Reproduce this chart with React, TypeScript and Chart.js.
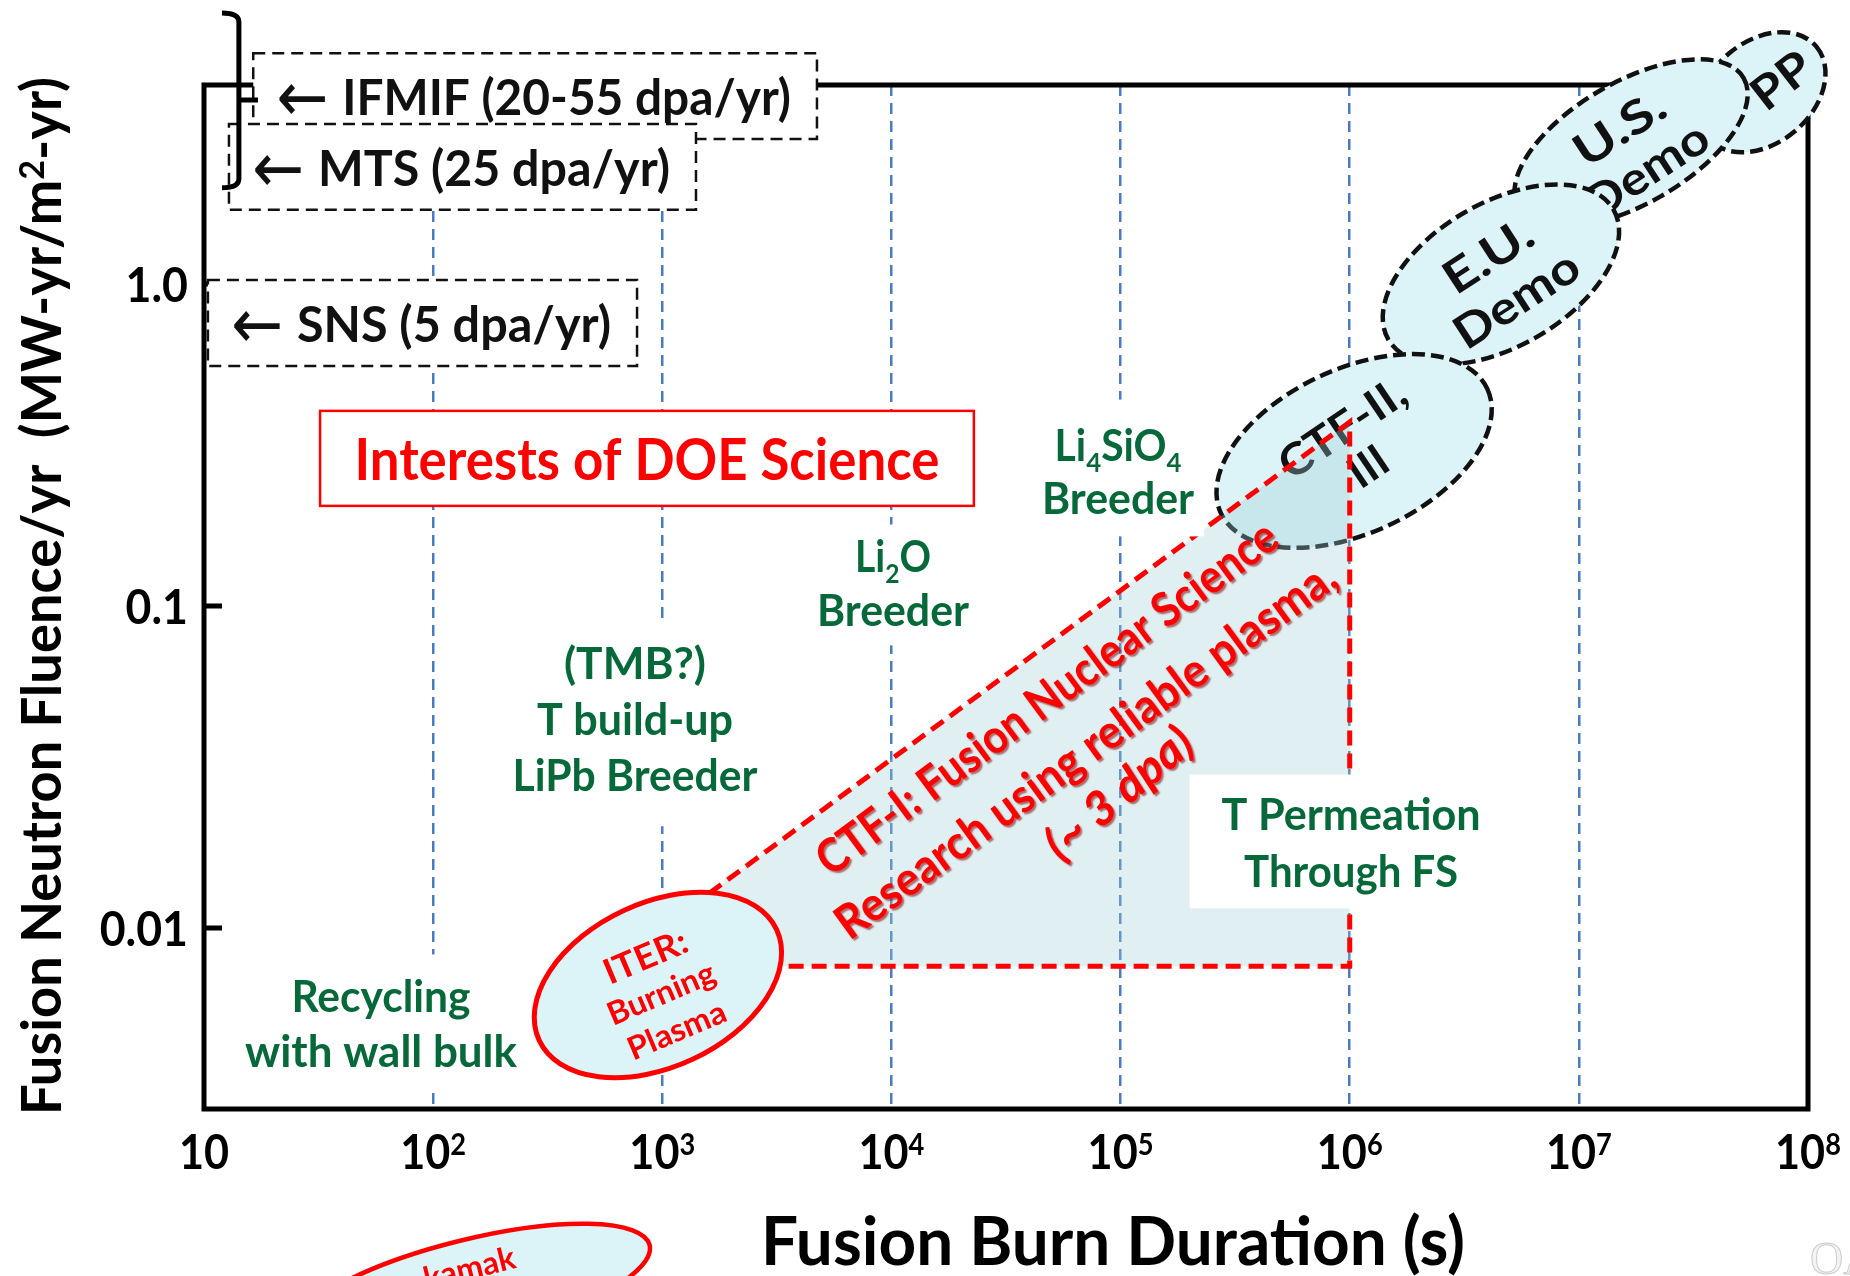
import React, { useEffect, useRef } from 'react';
import { Chart, registerables } from 'chart.js';

Chart.register(...registerables);

// ---------------- chart values ----------------
const DURATION_TICKS = [1e1, 1e2, 1e3, 1e4, 1e5, 1e6, 1e7, 1e8];
const DURATION_TICK_LABELS = ['10', '10^2', '10^3', '10^4', '10^5', '10^6', '10^7', '10^8'];
const FLUENCE_TICKS = [1.0, 0.1, 0.01];
const FLUENCE_TICK_LABELS = ['1.0', '0.1', '0.01'];
const DURATION_LIMITS = [10, 1e8];
const FLUENCE_LIMITS = [0.00274, 4.15];

const X_TITLE = 'Fusion Burn Duration (s)';
const Y_TITLE = 'Fusion Neutron Fluence/yr  (MW-yr/m^2-yr)';

// CTF-I region outline: diagonal, right edge, bottom edge
const CTF1_DURATION = [1.6e3, 1.0e6, 1.0e6, 1.6e3];
const CTF1_FLUENCE = [0.0128, 0.373, 0.0076, 0.0076];
const CTF1_TEXT = ['CTF-I: Fusion Nuclear Science', 'Research using reliable plasma,', '(~ 3 dpa)'];
const CTF1_TEXT_DURATION = [4.73e4, 7.0e4, 9.75e4];
const CTF1_TEXT_FLUENCE = [0.0521, 0.036, 0.0264];

// device regions (ellipses)
const DEVICE_LABELS = [['PP'], ['U.S.', 'Demo'], ['E.U.', 'Demo'], ['CTF-II,', 'III']];
const DEVICE_DURATION = [6.3e7, 1.69e7, 4.57e6, 1.045e6];
const DEVICE_FLUENCE = [3.94, 2.74, 1.07, 0.303];
const DEVICE_TEXT_DURATION = [7.62e7, 1.72e7, 4.62e6, 1.054e6];
const DEVICE_TEXT_FLUENCE = [4.3, 2.63, 1.05, 0.312];

const ITER_LABEL = ['ITER:', 'Burning', 'Plasma'];
const ITER_DURATION = 957;
const ITER_FLUENCE = 0.00665;
const ITER_TEXT_DURATION = 986;
const ITER_TEXT_FLUENCE = 0.00628;

const TOKAMAK_LABEL = 'Tokamak';
const TOKAMAK_DURATION = 145;
const TOKAMAK_FLUENCE = 0.000752;
const TOKAMAK_TEXT_DURATION = 122;
const TOKAMAK_TEXT_FLUENCE = 0.000855;

// green notes
const NOTE_TEXTS = [
  ['Recycling', 'with wall bulk'],
  ['(TMB?)', 'T build-up', 'LiPb Breeder'],
  ['Li_2O', 'Breeder'],
  ['Li_4SiO_4', 'Breeder'],
  ['T Permeation', 'Through FS'],
];
const NOTE_DURATION = [59.2, 760, 1.016e4, 9.75e4, 1.014e6];
const NOTE_FLUENCE = [0.00611, 0.0661, 0.142, 0.314, 0.02244];

// facility boxes
const FACILITY_LABELS = ['IFMIF (20-55 dpa/yr)', 'MTS (25 dpa/yr)', 'SNS (5 dpa/yr)'];
const FACILITY_DURATION_SPAN = [[16.4, 4732], [12.85, 1403], [10.4, 776]];
const FACILITY_FLUENCE_SPAN = [[5.21, 2.82], [3.14, 1.7], [1.029, 0.556]];
const BRACKET_DURATION = [11.98, 14.2, 17.2];
const BRACKET_FLUENCE = [6.94, 3.73, 1.99];

const DOE_LABEL = 'Interests of DOE Science';
const DOE_DURATION_SPAN = [32.1, 2.29e4];
const DOE_FLUENCE_SPAN = [0.4036, 0.2046];

// ---------------- styles / layout ----------------
const FONT = 'Lato, "Open Sans", "DejaVu Sans", sans-serif';
const ARROW_FONT = '"DejaVu Sans", sans-serif';
const CAP = 0.72;
const GREEN = '#07693a';
const RED = '#ff0000';
const INK = '#111111';
const FILL_BLUE = '#dcf3f8';
const GRID_BLUE = '#4a7bc0';

const DEVICE_STYLE = [
  { a: 71, b: 51, angle: -40, textAngle: -38, spacing: 0, size: 46, widths: [64] },
  { a: 130, b: 61, angle: -30, textAngle: -33, spacing: 50, size: 46, widths: [100, 138] },
  { a: 130, b: 72, angle: -30, textAngle: -33, spacing: 52, size: 46, widths: [98, 140] },
  { a: 147, b: 82, angle: -25, textAngle: -34, spacing: 46, size: 44, widths: [144, null] },
];
const NOTE_LAYOUT = [
  { widths: [179, 272], spacing: 55, pad: [10, 28, 26] },
  { widths: [142, 196, 245], spacing: 56, pad: [10, 28, 36] },
  { widths: [76, 152], spacing: 54, pad: [10, 18, 20] },
  { widths: [127, 152], spacing: 53, pad: [10, 32, 23] },
  { widths: [259, 214], spacing: 57, pad: [32, 26, 22] },
];
const CTF1_TEXT_WIDTHS = [561, 607, 178];
const CTF1_TEXT_ANGLES = [-36.5, -36, -40];

// ---------------- text helpers ----------------
type Seg = { t: string; mode: number };
function parseRich(s: string): Seg[] {
  const out: Seg[] = [];
  let buf = '';
  for (let i = 0; i < s.length; i++) {
    const c = s[i];
    if ((c === '^' || c === '_') && i + 1 < s.length) {
      if (buf) { out.push({ t: buf, mode: 0 }); buf = ''; }
      out.push({ t: s[i + 1], mode: c === '^' ? 1 : -1 });
      i++;
    } else buf += c;
  }
  if (buf) out.push({ t: buf, mode: 0 });
  return out;
}
function fontFor(st: any, mode: number) {
  const sz = mode === 0 ? st.size : st.size * 0.63;
  return `${st.italic ? 'italic ' : ''}${st.weight ?? 'bold'} ${sz}px ${st.family ?? FONT}`;
}
function richWidth(ctx: CanvasRenderingContext2D, segs: Seg[], st: any) {
  let w = 0;
  for (const s of segs) { ctx.font = fontFor(st, s.mode); w += ctx.measureText(s.t).width; }
  return w;
}
// draw text whose cap-height centre lies at (x, y)
function drawText(ctx: CanvasRenderingContext2D, text: string, x: number, y: number, st: any, opts: any = {}) {
  const segs = parseRich(text);
  const nat = richWidth(ctx, segs, st);
  const sx = opts.width ? opts.width / nat : (opts.scaleX ?? 1);
  ctx.save();
  ctx.translate(x, y);
  if (opts.angle) ctx.rotate((opts.angle * Math.PI) / 180);
  ctx.scale(sx, 1);
  const align = opts.align ?? 'center';
  let cx = align === 'center' ? -nat / 2 : align === 'left' ? 0 : -nat;
  ctx.fillStyle = st.color;
  ctx.textAlign = 'left';
  ctx.textBaseline = 'alphabetic';
  const base = (st.size * CAP) / 2;
  for (const s of segs) {
    ctx.font = fontFor(st, s.mode);
    const dy = s.mode === 1 ? -st.size * 0.3 : s.mode === -1 ? st.size * 0.24 : 0;
    ctx.fillText(s.t, cx, base + dy);
    cx += ctx.measureText(s.t).width;
  }
  ctx.restore();
}
function drawBlock(ctx: CanvasRenderingContext2D, lines: string[], x: number, y: number, spacing: number, styles: any[], widths: any[], angle = 0) {
  const r = (angle * Math.PI) / 180;
  const nx = -Math.sin(r), ny = Math.cos(r);
  const n = lines.length;
  lines.forEach((t, i) => {
    const k = i - (n - 1) / 2;
    drawText(ctx, t, x + nx * k * spacing, y + ny * k * spacing, styles[Math.min(i, styles.length - 1)], { angle, width: widths[i] ?? undefined });
  });
}
function drawEllipse(ctx: CanvasRenderingContext2D, cx: number, cy: number, a: number, b: number, angle: number, fill: string, stroke: string, lw: number, dash: number[]) {
  ctx.save();
  ctx.beginPath();
  ctx.ellipse(cx, cy, a, b, (angle * Math.PI) / 180, 0, Math.PI * 2);
  ctx.fillStyle = fill;
  ctx.fill();
  ctx.setLineDash(dash);
  ctx.lineWidth = lw;
  ctx.strokeStyle = stroke;
  ctx.stroke();
  ctx.restore();
}

const overlay = {
  id: 'overlay',
  beforeDatasetsDraw(chart: any) {
    const { ctx, chartArea: ca, scales } = chart;
    const X = (v: number) => scales.x.getPixelForValue(v);
    const Y = (v: number) => scales.y.getPixelForValue(v);
    // frame + y ticks
    ctx.save();
    ctx.strokeStyle = '#000';
    ctx.lineWidth = 5;
    ctx.lineJoin = 'miter';
    ctx.setLineDash([]);
    ctx.strokeRect(ca.left, ca.top, ca.right - ca.left, ca.bottom - ca.top);
    ctx.beginPath();
    FLUENCE_TICKS.forEach((v) => { ctx.moveTo(ca.left, Y(v)); ctx.lineTo(ca.left + 18, Y(v)); });
    ctx.stroke();
    ctx.restore();
    // device ellipses
    DEVICE_LABELS.forEach((lines, i) => {
      const s = DEVICE_STYLE[i];
      drawEllipse(ctx, X(DEVICE_DURATION[i]), Y(DEVICE_FLUENCE[i]), s.a, s.b, s.angle, FILL_BLUE, INK, 4.5, [13, 6]);
      drawBlock(ctx, lines, X(DEVICE_TEXT_DURATION[i]), Y(DEVICE_TEXT_FLUENCE[i]), s.spacing,
        [{ size: s.size, weight: 'bold', color: INK }], s.widths, s.textAngle);
    });
    // CTF-I fill from the dataset's own element positions
    const meta = chart.getDatasetMeta(0);
    ctx.save();
    ctx.beginPath();
    meta.data.forEach((p: any, i: number) => (i ? ctx.lineTo(p.x, p.y) : ctx.moveTo(p.x, p.y)));
    ctx.closePath();
    ctx.fillStyle = 'rgba(160,205,212,0.33)';
    ctx.fill();
    ctx.restore();
  },
  afterDatasetsDraw(chart: any) {
    const { ctx, chartArea: ca, scales } = chart;
    const X = (v: number) => scales.x.getPixelForValue(v);
    const Y = (v: number) => scales.y.getPixelForValue(v);

    // green notes with white backgrounds
    NOTE_TEXTS.forEach((lines, i) => {
      const L = NOTE_LAYOUT[i];
      const x = X(NOTE_DURATION[i]);
      const y = Y(NOTE_FLUENCE[i]);
      const st = { size: 43, weight: 'bold', color: GREEN };
      const cap = 40 * CAP;
      const maxW = Math.max(...L.widths);
      const [padX, padT, padB] = L.pad;
      ctx.fillStyle = '#fff';
      ctx.fillRect(x - maxW / 2 - padX, y - cap / 2 - padT, maxW + 2 * padX, (lines.length - 1) * L.spacing + cap + padT + padB);
      lines.forEach((t, j) => drawText(ctx, t, x, y + j * L.spacing, st, { width: L.widths[j] }));
    });

    // DOE box
    {
      const x0 = X(DOE_DURATION_SPAN[0]), x1 = X(DOE_DURATION_SPAN[1]);
      const y0 = Y(DOE_FLUENCE_SPAN[0]), y1 = Y(DOE_FLUENCE_SPAN[1]);
      ctx.save();
      ctx.fillStyle = '#fff';
      ctx.fillRect(x0, y0, x1 - x0, y1 - y0);
      ctx.strokeStyle = RED;
      ctx.lineWidth = 2.5;
      ctx.strokeRect(x0, y0, x1 - x0, y1 - y0);
      ctx.restore();
      drawText(ctx, DOE_LABEL, (x0 + x1) / 2, (y0 + y1) / 2 + 1, { size: 57, weight: 'bold', color: RED }, { width: 585 });
    }

    // facility boxes
    FACILITY_LABELS.forEach((t, i) => {
      const x0 = X(FACILITY_DURATION_SPAN[i][0]), x1 = X(FACILITY_DURATION_SPAN[i][1]);
      const y0 = Y(FACILITY_FLUENCE_SPAN[i][0]), y1 = Y(FACILITY_FLUENCE_SPAN[i][1]);
      ctx.save();
      ctx.fillStyle = '#fff';
      ctx.fillRect(x0, y0, x1 - x0, y1 - y0);
      ctx.setLineDash([12, 7]);
      ctx.lineWidth = 2.5;
      ctx.strokeStyle = INK;
      ctx.strokeRect(x0, y0, x1 - x0, y1 - y0);
      ctx.restore();
      const cy = (y0 + y1) / 2 + 1;
      drawText(ctx, '\u2190', x0 + 23, cy - 1, { size: 70, weight: 'normal', family: ARROW_FONT, color: INK }, { width: 52, align: 'left' });
      drawText(ctx, t, x0 + 89, cy, { size: 50, weight: 'bold', color: INK }, { width: x1 - x0 - 89 - 26, align: 'left' });
    });

    // brace next to IFMIF / MTS
    {
      const xe = X(BRACKET_DURATION[0]), xs = X(BRACKET_DURATION[1]), xn = X(BRACKET_DURATION[2]);
      const yt = Y(BRACKET_FLUENCE[0]), ym = Y(BRACKET_FLUENCE[1]), yb = Y(BRACKET_FLUENCE[2]);
      ctx.save();
      ctx.strokeStyle = '#000';
      ctx.lineWidth = 5;
      ctx.setLineDash([]);
      ctx.beginPath();
      ctx.moveTo(xe, yt);
      ctx.quadraticCurveTo(xs, yt, xs, yt + 9);
      ctx.lineTo(xs, yb - 9);
      ctx.quadraticCurveTo(xs, yb, xe, yb);
      ctx.moveTo(xs, ym);
      ctx.lineTo(xn, ym);
      ctx.stroke();
      ctx.restore();
    }

    // ITER ellipse
    drawEllipse(ctx, X(ITER_DURATION), Y(ITER_FLUENCE), 131, 82, -25, FILL_BLUE, RED, 5, []);
    drawBlock(ctx, ITER_LABEL, X(ITER_TEXT_DURATION), Y(ITER_TEXT_FLUENCE), 40,
      [{ size: 35, weight: 'bold', color: RED }, { size: 32, weight: 'bold', color: RED }], [88, 114, 104], -23);

    // CTF-I text
    ctx.save();
    ctx.shadowColor = 'rgba(130,0,0,0.55)';
    ctx.shadowOffsetX = 2;
    ctx.shadowOffsetY = 2;
    ctx.shadowBlur = 1.5;
    CTF1_TEXT.forEach((t, i) => {
      drawText(ctx, t, X(CTF1_TEXT_DURATION[i]), Y(CTF1_TEXT_FLUENCE[i]),
        { size: 47, weight: 'bold', italic: i === 2, color: RED }, { width: CTF1_TEXT_WIDTHS[i], angle: CTF1_TEXT_ANGLES[i] });
    });
    ctx.restore();

    // partial Tokamak ellipse below (its label runs off the page)
    drawEllipse(ctx, X(TOKAMAK_DURATION), Y(TOKAMAK_FLUENCE), 185, 50, -14, FILL_BLUE, RED, 4.5, []);
    ctx.save();
    ctx.beginPath();
    ctx.rect(X(TOKAMAK_DURATION) - 52, ca.bottom, 400, 400);
    ctx.clip();
    drawText(ctx, TOKAMAK_LABEL, X(TOKAMAK_TEXT_DURATION), Y(TOKAMAK_TEXT_FLUENCE), { size: 32, weight: 'bold', color: RED }, { angle: -14 });
    ctx.restore();

    // tick labels
    DURATION_TICKS.forEach((v, i) => {
      drawText(ctx, DURATION_TICK_LABELS[i], X(v), ca.bottom + 43, { size: 48, weight: 'bold', color: '#000' }, { scaleX: 0.9 });
    });
    FLUENCE_TICKS.forEach((v, i) => {
      drawText(ctx, FLUENCE_TICK_LABELS[i], ca.left - 16, Y(v) + 1, { size: 47, weight: 'bold', color: '#000' }, { align: 'right', scaleX: 0.95 });
    });

    // axis titles
    drawText(ctx, X_TITLE, (ca.left + ca.right) / 2 + 107, ca.bottom + 132, { size: 66, weight: 'bold', color: '#000' }, { width: 704 });
    drawText(ctx, Y_TITLE, 41, (ca.top + ca.bottom) / 2 - 1, { size: 55, weight: 'bold', color: '#000' }, { width: 1038, angle: -90 });

    // faint watermark
    ctx.save();
    ctx.font = 'normal 46px "Liberation Serif", serif';
    ctx.fillStyle = '#f3f3f3';
    ctx.strokeStyle = '#cccccc';
    ctx.lineWidth = 1;
    ctx.textBaseline = 'alphabetic';
    ctx.fillText('OA', 1810, 1274);
    ctx.strokeText('OA', 1810, 1274);
    ctx.restore();
  },
};

export default function App() {
  const ref = useRef<HTMLCanvasElement>(null);
  useEffect(() => {
    const canvas = ref.current!;
    const chart = new Chart(canvas, {
      type: 'line',
      data: {
        datasets: [
          {
            label: 'CTF-I',
            data: CTF1_DURATION.map((x, i) => ({ x, y: CTF1_FLUENCE[i] })),
            borderColor: RED,
            borderWidth: 5,
            borderDash: [15, 8],
            borderJoinStyle: 'miter',
            borderCapStyle: 'butt',
            fill: false,
            pointRadius: 0,
            tension: 0,
          } as any,
        ],
      },
      options: {
        animation: false,
        responsive: false,
        maintainAspectRatio: false,
        devicePixelRatio: 1,
        layout: { padding: { left: 204, right: 42, top: 85, bottom: 167 } },
        plugins: { legend: { display: false }, tooltip: { enabled: false }, title: { display: false } },
        scales: {
          x: {
            type: 'logarithmic',
            min: DURATION_LIMITS[0],
            max: DURATION_LIMITS[1],
            afterBuildTicks: (axis: any) => { axis.ticks = DURATION_TICKS.map((value) => ({ value })); },
            ticks: { display: false },
            grid: {
              drawTicks: false,
              lineWidth: 2.5,
              color: (c: any) =>
                c.tick && (c.tick.value === DURATION_LIMITS[0] || c.tick.value === DURATION_LIMITS[1]) ? 'rgba(0,0,0,0)' : GRID_BLUE,
            },
            border: { display: false, dash: [11, 7] },
          },
          y: {
            type: 'logarithmic',
            min: FLUENCE_LIMITS[0],
            max: FLUENCE_LIMITS[1],
            ticks: { display: false },
            grid: { display: false, drawTicks: false },
            border: { display: false },
          },
        },
      } as any,
      plugins: [overlay],
    });
    return () => chart.destroy();
  }, []);
  return (
    <div style={{ position: 'absolute', left: 0, top: 0, width: 1850, height: 1276, background: '#fff' }}>
      <canvas ref={ref} width={1850} height={1276} style={{ display: 'block', width: 1850, height: 1276 }} />
    </div>
  );
}
